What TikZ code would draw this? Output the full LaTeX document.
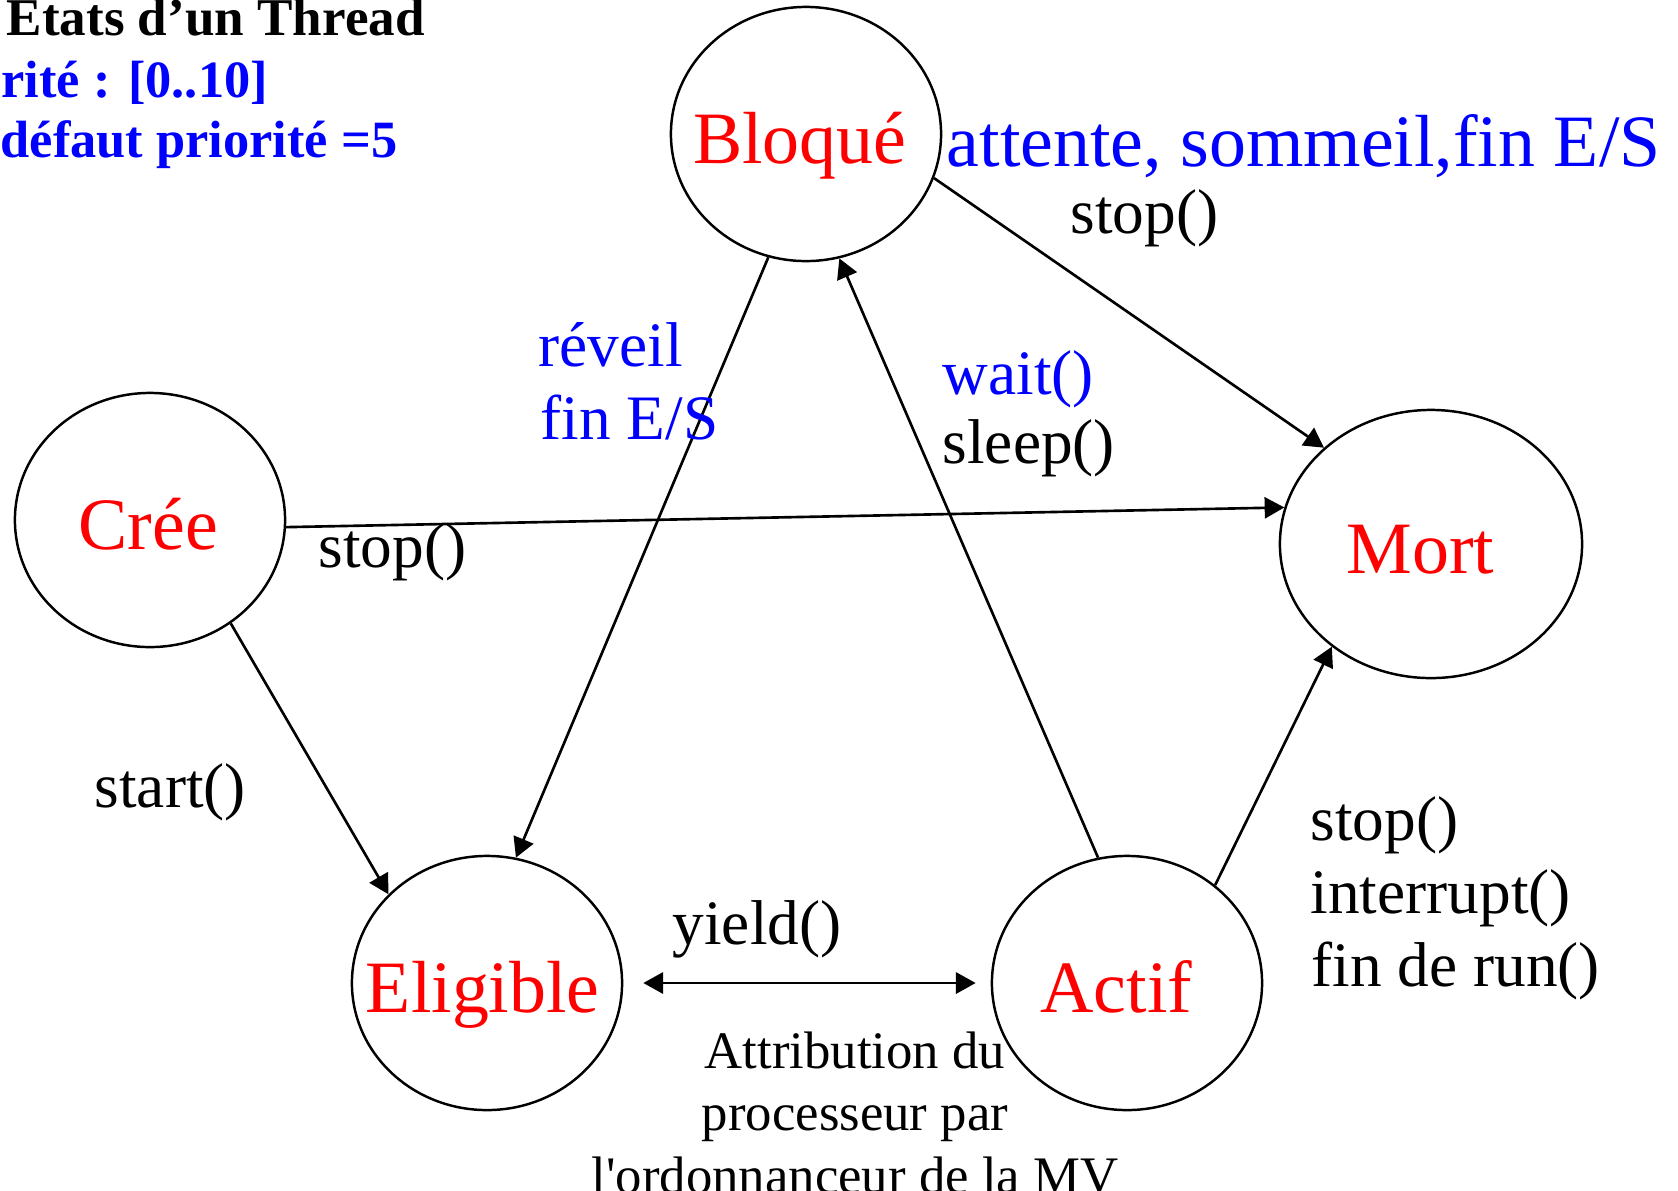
\documentclass[tikz,border=0pt]{standalone}
\usepackage{fontspec}
\setmainfont{Liberation Serif}
\usetikzlibrary{shapes.geometric,arrows.meta}

\begin{document}
\begin{tikzpicture}[x=0.01cm,y=-0.01cm,
  etat/.style={draw,ellipse,line width=0.7pt,inner xsep=-12pt,inner ysep=-2pt,
    minimum width=2.7cm,minimum height=2.54cm,text height=17pt,text depth=0pt,
    text=red,font=\fontsize{21}{25}\selectfont},
  fleche/.style={line width=0.75pt,-{Triangle[length=5.6pt,width=6pt]}},
  lab/.style={anchor=base west,inner sep=0pt,font=\fontsize{18}{21}\selectfont},
  note/.style={anchor=base,inner sep=0pt,font=\fontsize{15}{18}\selectfont},
  entete/.style={inner sep=0pt,anchor=base west,font=\bfseries\fontsize{15.1}{18}\selectfont}]
  \useasboundingbox (0,0) rectangle (1678,1190);

  % les etats
  \node[etat] (bloque) at (806,134) {Bloqué\kern3.6pt};
  \node[etat] (cree) at (150,520) {Crée\kern1pt};
  \node[etat,minimum width=3.02cm,minimum height=2.68cm] (mort) at (1431,544) {Mort\kern6pt};
  \node[etat] (eligible) at (487,983) {Eligible\kern2.4pt};
  \node[etat] (actif) at (1127,983) {Actif\kern6pt};

  % les transitions
  \draw[fleche] (bloque.-19) -- (mort.138);
  \draw[fleche] (bloque.-107) -- (eligible.77);
  \draw[fleche] (actif.103) -- (bloque.-75);
  \draw[fleche] (cree.-3) -- (mort.166);
  \draw[fleche] (cree.-52) -- (eligible.138);
  \draw[fleche,{Triangle[length=5.6pt,width=6pt]}-{Triangle[length=5.6pt,width=6pt]},
    shorten <=0.2cm,shorten >=0.15cm] (eligible) -- (actif);
  \draw[fleche] (actif.48) -- (mort.-134);

  % etiquettes
  \node[lab,text=blue,font=\fontsize{21}{25}\selectfont] (causes) at (946,166) {attente, sommeil,fin E/S};
  \node[lab] (stopa) at (1070,233) {stop()};
  \node[lab,text=blue] (reveil) at (538,366) {réveil};
  \node[lab,text=blue] (finES) at (540,439) {fin E/S};
  \node[lab,text=blue] (wait) at (942,394) {wait()};
  \node[lab] (sleep) at (942,463) {sleep()};
  \node[lab] (stopb) at (318,567) {stop()};
  \node[lab] (start) at (94,807) {start()};
  \node[lab] (yield) at (672,944) {yield()};
  \node[lab] (stopc) at (1310,840) {stop()};
  \node[lab] (interrupt) at (1310,913) {interrupt()};
  \node[lab] (finrun) at (1311,986) {fin de run()};

  \node[note] (attrib) at (855,1068) {Attribution du};
  \node[note] (proc) at (855,1130) {processeur par};
  \node[note] (ordo) at (855,1193) {l\textquotesingle ordonnanceur de la MV};

  % titre et priorites
  \node[entete] (titre) at (6,35) {Etats d'un Thread};
  \node[entete,text=blue,font=\bfseries\fontsize{14.9}{18}\selectfont] (prio) at (1,97) {rité : [0..10]};
  \node[entete,text=blue,font=\bfseries\fontsize{14.9}{18}\selectfont] (defaut) at (0,157) {défaut priorité =5};
\end{tikzpicture}
\end{document}
